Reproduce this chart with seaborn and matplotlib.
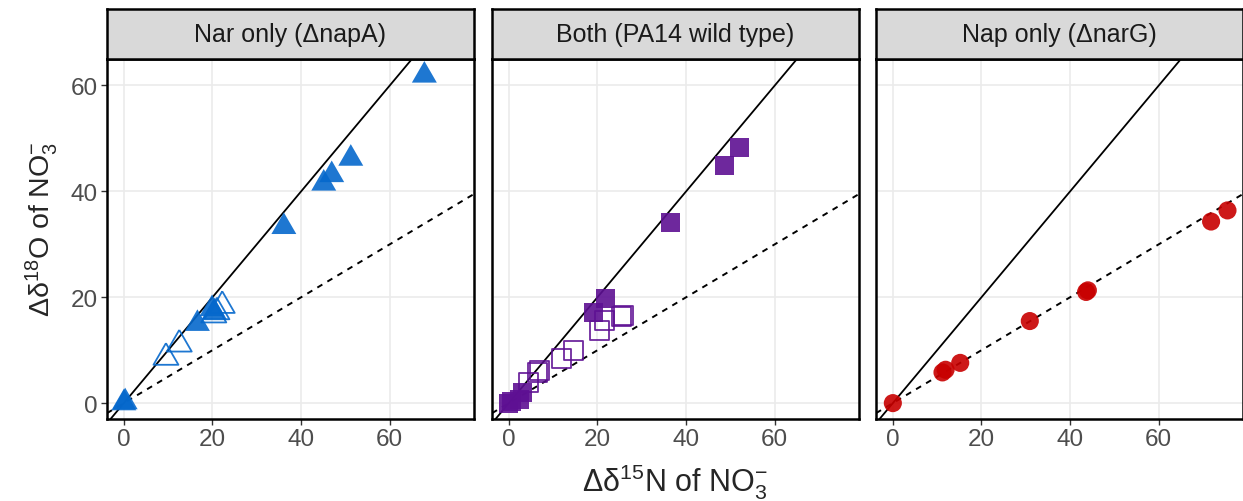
import pandas as pd
import matplotlib
matplotlib.use('Agg')
import matplotlib.pyplot as plt
import seaborn as sns

# panel titles and colours
panels = ['Nar only (\u0394napA)', 'Both (PA14 wild type)', 'Nap only (\u0394narG)']
colors = ['#0568CC', '#5E1093', '#C80000']

# Nar only: filled and open triangles
nar_filled_x = [0.0, 0.3, 16.6, 19.9, 20.4, 36.1, 45.1, 46.9, 51.2, 67.8]
nar_filled_y = [0.0, 0.2, 15.0, 17.8, 17.2, 33.3, 41.5, 43.1, 46.2, 61.9]
nar_open_x = [9.5, 12.5, 20.3, 21.0, 22.2]
nar_open_y = [8.6, 11.1, 16.6, 17.2, 18.4]

# Both: filled and open squares
both_filled_x = [0.0, 0.6, 2.4, 3.0, 19.0, 21.9, 36.5, 48.6, 52.0]
both_filled_y = [0.0, 0.3, 0.6, 2.0, 17.2, 19.7, 34.2, 44.8, 48.2]
both_open_x = [4.4, 6.5, 6.9, 11.8, 14.5, 20.4, 21.6, 25.5, 25.9]
both_open_y = [3.9, 5.8, 6.1, 8.5, 9.9, 13.7, 15.6, 16.4, 16.6]

# Nap only: filled circles
nap_x = [0.0, 11.2, 11.9, 15.2, 30.9, 43.6, 44.0, 71.8, 75.5]
nap_y = [0.0, 5.8, 6.3, 7.6, 15.5, 21.0, 21.3, 34.3, 36.4]

rows = []
for x, y in zip(nar_filled_x, nar_filled_y):
    rows.append((panels[0], x, y, True))
for x, y in zip(nar_open_x, nar_open_y):
    rows.append((panels[0], x, y, False))
for x, y in zip(both_filled_x, both_filled_y):
    rows.append((panels[1], x, y, True))
for x, y in zip(both_open_x, both_open_y):
    rows.append((panels[1], x, y, False))
for x, y in zip(nap_x, nap_y):
    rows.append((panels[2], x, y, True))
df = pd.DataFrame(rows, columns=['panel', 'd15N', 'd18O', 'filled'])

sns.set_style('white')
plt.rcParams['font.family'] = ['Liberation Sans', 'DejaVu Sans']
plt.rcParams['mathtext.fontset'] = 'custom'
plt.rcParams['mathtext.rm'] = 'Liberation Sans'
plt.rcParams['mathtext.it'] = 'Liberation Sans:italic'

# triangle centred on its centroid, like R's pch 17
tri = [(0, 1), (-0.866, -0.5), (0.866, -0.5), (0, 1)]
markers = [tri, 's', 'o']
sizes = [430, 185, 170]

fig = plt.figure(figsize=(12.43, 5.02), dpi=100)
W, H = 1243, 502
lefts = [107, 492, 876]
pw = 367
top, bottom = 60, 420

for i, name in enumerate(panels):
    ax = fig.add_axes([lefts[i] / W, 1 - bottom / H, pw / W, (bottom - top) / H])
    sub = df[df['panel'] == name]
    ax.axline((0, 0), slope=1, color='black', lw=1.3, zorder=2)
    ax.axline((0, 0), slope=0.5, color='black', lw=1.4, ls=(0, (3, 3)), zorder=2)
    f = sub[sub['filled']]
    sns.scatterplot(data=f, x='d15N', y='d18O', ax=ax, marker=markers[i], s=sizes[i],
                    color=colors[i], edgecolor='none', alpha=0.9, zorder=3, legend=False)
    o = sub[~sub['filled']]
    if len(o):
        sns.scatterplot(data=o, x='d15N', y='d18O', ax=ax, marker=markers[i], s=sizes[i],
                        facecolor='none', edgecolor=colors[i], linewidth=1.3, alpha=0.9,
                        zorder=3, legend=False)
    ax.set_xlim(-3.8, 79)
    ax.set_ylim(-3.0, 65)
    ax.set_xticks([0, 20, 40, 60])
    ax.set_yticks([0, 20, 40, 60])
    ax.grid(True, color='#EBEBEB', lw=1.2, zorder=0)
    ax.set_axisbelow(True)
    ax.set_xlabel('')
    ax.set_ylabel('')
    ax.tick_params(axis='both', length=4.5, width=1, color='#333333',
                   labelsize=17.5, labelcolor='#4D4D4D', pad=2, bottom=True, left=True)
    if i > 0:
        ax.tick_params(axis='y', labelleft=False, left=False)
    for sp in ax.spines.values():
        sp.set_color('black')
        sp.set_linewidth(1.8)

    # facet strip
    st = fig.add_axes([lefts[i] / W, 1 - top / H, pw / W, 50 / H])
    st.set_facecolor('#D9D9D9')
    st.set_xticks([])
    st.set_yticks([])
    for sp in st.spines.values():
        sp.set_color('black')
        sp.set_linewidth(1.8)
    st.text(0.5, 0.5, name, ha='center', va='center', fontsize=18, color='#1A1A1A',
            transform=st.transAxes)

fig.text(675 / W, 1 - 482 / H, '\u0394\u03b4$^{15}$N of NO$_3^{-}$', ha='center',
         va='center', fontsize=22)
fig.text(42 / W, 1 - 229 / H, '\u0394\u03b4$^{18}$O of NO$_3^{-}$', ha='center',
         va='center', fontsize=20.5, rotation=90)

fig.savefig('out.png', dpi=100)
